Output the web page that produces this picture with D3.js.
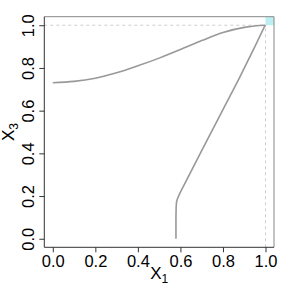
<!DOCTYPE html>
<html>
<head>
<meta charset="utf-8">
<script src="https://cdn.jsdelivr.net/npm/d3@7"></script>
<style>
  body { margin: 0; background: #fff; }
  svg text { font-family: "Liberation Sans", Arial, sans-serif; fill: #000; }
</style>
</head>
<body>
<svg id="chart" width="291" height="292"></svg>
<script>
// curve from (0, 0.73) rising to the corner
const curveX1 = [0, 0.1, 0.2, 0.3, 0.4, 0.5, 0.6, 0.7, 0.8, 0.9, 0.97, 1.0];
const curveX3 = [0.731, 0.737, 0.752, 0.777, 0.81, 0.846, 0.886, 0.928, 0.966, 0.99, 0.999, 1.0];

// path starting at (0.58, 0) going up to the corner
const pathX1 = [0.579, 0.579, 0.58, 0.582, 0.587, 0.6, 0.7, 0.8, 0.874, 0.95, 0.995, 1.0];
const pathX3 = [0, 0.1, 0.15, 0.175, 0.19, 0.218, 0.413, 0.605, 0.747, 0.9, 0.993, 1.0];

const tickVals = [0, 0.2, 0.4, 0.6, 0.8, 1.0];
const tickLabels = ["0.0", "0.2", "0.4", "0.6", "0.8", "1.0"];

const svg = d3.select('#chart');
const pLeft = 44.3, pRight = 274, pTop = 16.7, pBottom = 247.3;

const x = d3.scaleLinear().domain([-0.04, 1.04]).range([pLeft, pRight]);
const y = d3.scaleLinear().domain([-0.04, 1.04]).range([pBottom, pTop]);

// highlighted corner cell
svg.append('rect')
  .attr('x', x(1)).attr('y', y(1.04))
  .attr('width', x(1.04) - x(1)).attr('height', y(1) - y(1.04))
  .attr('fill', '#bdeff2');

// reference lines at 1
svg.append('line')
  .attr('x1', x(1)).attr('x2', x(1)).attr('y1', y(-0.04)).attr('y2', y(1))
  .attr('stroke', '#cfcfcf').attr('stroke-width', 1).attr('stroke-dasharray', '3,3');
svg.append('line')
  .attr('x1', x(-0.04)).attr('x2', x(1)).attr('y1', y(1)).attr('y2', y(1))
  .attr('stroke', '#cfcfcf').attr('stroke-width', 1).attr('stroke-dasharray', '3,3');

svg.append('path')
  .attr('d', d3.line().x(d => x(d[0])).y(d => y(d[1])).curve(d3.curveMonotoneX)(curveX1.map((v, i) => [v, curveX3[i]])))
  .attr('fill', 'none').attr('stroke', '#999').attr('stroke-width', 1.6);

svg.append('path')
  .attr('d', d3.line().x(d => x(d[0])).y(d => y(d[1]))(pathX1.map((v, i) => [v, pathX3[i]])))
  .attr('fill', 'none').attr('stroke', '#999').attr('stroke-width', 1.6);

// box: top/right gray, left/bottom dark
svg.append('path')
  .attr('d', `M${pLeft},${pTop}H${pRight}V${pBottom}`)
  .attr('fill', 'none').attr('stroke', '#888').attr('stroke-width', 1);
svg.append('path')
  .attr('d', `M${pLeft},${pTop}V${pBottom}H${pRight}`)
  .attr('fill', 'none').attr('stroke', '#333').attr('stroke-width', 1);

// axes
const xAxis = d3.axisBottom(x).tickValues(tickVals).tickSize(5).tickPadding(3)
  .tickFormat((d, i) => tickLabels[i]);
const gx = svg.append('g').attr('transform', `translate(0,${pBottom})`).call(xAxis);
gx.select('.domain').remove();
gx.selectAll('.tick line').attr('stroke', '#333');
gx.selectAll('.tick text').attr('fill', '#000').style('font-size', '16.5px');

const yAxis = d3.axisLeft(y).tickValues(tickVals).tickSize(5).tickPadding(3)
  .tickFormat((d, i) => tickLabels[i]);
const gy = svg.append('g').attr('transform', `translate(${pLeft},0)`).call(yAxis);
gy.select('.domain').remove();
gy.selectAll('.tick line').attr('stroke', '#333');
gy.selectAll('.tick text')
  .attr('fill', '#000').style('font-size', '16.5px')
  .attr('x', null).attr('dy', null)
  .attr('text-anchor', 'middle')
  .attr('transform', 'translate(-10,0) rotate(-90)');

// axis titles
const xt = svg.append('text')
  .attr('x', x(0.5)).attr('y', 279)
  .attr('text-anchor', 'middle').style('font-size', '17px');
xt.append('tspan').text('X');
xt.append('tspan').style('font-size', '12px').attr('dy', 4).text('1');

const yt = svg.append('text')
  .attr('transform', `translate(14,${y(0.5)}) rotate(-90)`)
  .attr('text-anchor', 'middle').style('font-size', '17px');
yt.append('tspan').text('X');
yt.append('tspan').style('font-size', '12px').attr('dy', 4).text('3');
</script>
</body>
</html>
